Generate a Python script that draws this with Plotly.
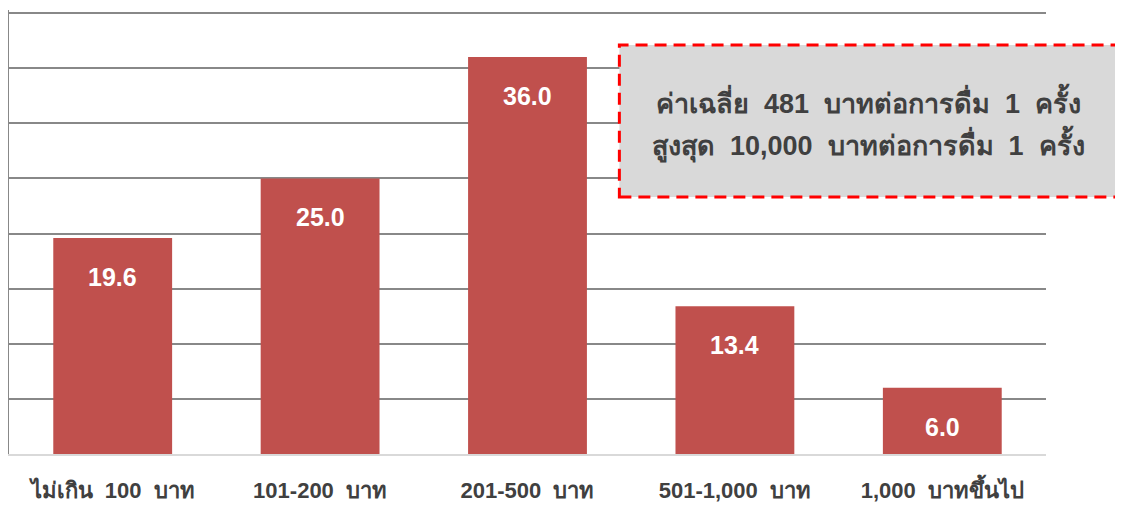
import plotly.graph_objects as go

categories = ["ไม่เกิน 100 บาท", "101-200 บาท", "201-500 บาท", "501-1,000 บาท", "1,000 บาทขึ้นไป"]
values = [19.6, 25.0, 36.0, 13.4, 6.0]
note_lines = ["ค่าเฉลี่ย 481 บาทต่อการดื่ม 1 ครั้ง", "สูงสุด 10,000 บาทต่อการดื่ม 1 ครั้ง"]

bar_color = "#C0504D"
font_family = "Liberation Sans, Arial, sans-serif"

def spaced(s):
    return s.replace(" ", "\u00a0\u00a0")

fig = go.Figure()
fig.add_trace(go.Bar(
    x=categories, y=values,
    marker=dict(color=bar_color, line=dict(width=0)),
    hoverinfo="skip",
))

for c, v in zip(categories, values):
    fig.add_annotation(
        x=c, y=v, text=f"<b>{v:.1f}</b>", showarrow=False,
        yanchor="middle", yshift=-39,
        font=dict(color="white", size=25, family=font_family),
    )

fig.add_shape(
    type="rect", xref="paper", yref="paper",
    x0=0.5886, x1=1.0694, y0=(454 - 197) / 444, y1=(454 - 45) / 444,
    fillcolor="#D9D9D9",
    line=dict(color="#FF0000", width=3, dash="12px,7px"),
    layer="above",
)
for line_text, ypix in zip(note_lines, [101, 144]):
    fig.add_annotation(
        xref="paper", yref="paper", x=0.829, y=(454 - ypix) / 444,
        xanchor="center", yanchor="middle",
        text="<b>" + spaced(line_text) + "</b>",
        showarrow=False, align="center",
        font=dict(color="#404040", size=27, family=font_family),
    )

fig.update_layout(
    width=1115, height=500,
    margin=dict(l=1, r=77, t=2, b=54),
    paper_bgcolor="white", plot_bgcolor="white",
    bargap=0.427, showlegend=False,
    font=dict(family=font_family),
)
fig.update_xaxes(
    showgrid=False, showline=True, linecolor="#D9D9D9", linewidth=1.5,
    tickvals=categories, ticktext=["<b>" + spaced(c) + "</b>" for c in categories],
    ticks="", tickfont=dict(size=22, color="#404040", family=font_family),
    ticklabelstandoff=16,
)
fig.update_yaxes(
    range=[0, 444 / 11.025], tickvals=[5, 10, 15, 20, 25, 30, 35, 40], showticklabels=False,
    showgrid=True, gridcolor="#888888", gridwidth=1.5,
    showline=True, linecolor="#888888", linewidth=2, zeroline=False,
)

fig.write_html("out.html")
